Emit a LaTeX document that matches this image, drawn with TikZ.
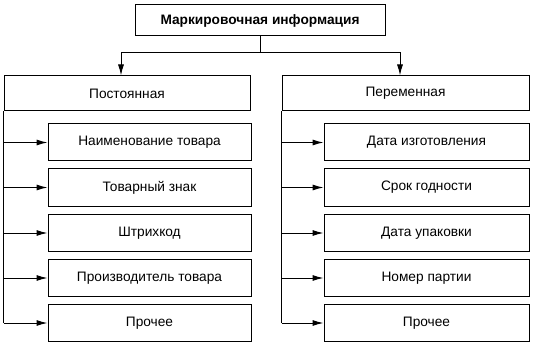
\documentclass[tikz,border=0pt]{standalone}
\usepackage{fontspec}
\setmainfont{Liberation Sans}
\usetikzlibrary{arrows.meta}

\begin{document}
\begin{tikzpicture}[
  x=1pt, y=-1pt,
  font=\fontsize{13.7}{16}\selectfont, >={Latex[length=11pt,width=6pt]},
  box/.style={draw,line width=1pt,inner sep=2pt,align=center},
  head/.style={box,minimum width=250pt,minimum height=31pt,font=\fontsize{13.7}{16}\selectfont\bfseries},
  kind/.style={box,minimum height=35pt},
  item/.style={box,minimum height=37pt},
  e/.style={->,line width=1pt},
]
\useasboundingbox (0,0) rectangle (534,347);

\node[head] (top) at (260,20.5) {Маркировочная информация};

\node[kind,minimum width=246pt] (perm) at (127,93.5) {Постоянная};
\node[kind,minimum width=247pt] (var)  at (405.5,93.5) {Переменная};

% left column
\node[item,minimum width=203pt] (p1) at (149.5,142.5) {Наименование товара};
\node[item,minimum width=203pt] (p2) at (149.5,187.5) {Товарный знак};
\node[item,minimum width=203pt] (p3) at (149.5,233)   {Штрихкод};
\node[item,minimum width=203pt] (p4) at (149.5,278)   {Производитель товара};
\node[item,minimum width=203pt] (p5) at (149.5,323)   {Прочее};

% right column
\node[item,minimum width=205pt] (v1) at (426.5,142.5) {Дата изготовления};
\node[item,minimum width=205pt] (v2) at (426.5,187.5) {Срок годности};
\node[item,minimum width=205pt] (v3) at (426.5,233)   {Дата упаковки};
\node[item,minimum width=205pt] (v4) at (426.5,278)   {Номер партии};
\node[item,minimum width=205pt] (v5) at (426.5,323)   {Прочее};

% top split
\coordinate (split) at (260,53);
\coordinate (sl) at (121,53);
\coordinate (sr) at (400,53);
\draw[line width=1pt] (top.south) -- (split);
\draw[e] (split) -- (sl) -- (sl |- perm.north);
\draw[e] (split) -- (sr) -- (sr |- var.north);

% trunks run down from the left edges
\draw[line width=1pt] (perm.south west) -- (perm.south west |- p5.west);
\draw[line width=1pt] (var.south west) -- (var.south west |- v5.west);
\foreach \n in {p1,p2,p3,p4,p5}
  \draw[e] (perm.south west |- \n.west) -- (\n.west);
\foreach \n in {v1,v2,v3,v4,v5}
  \draw[e] (var.south west |- \n.west) -- (\n.west);
\end{tikzpicture}
\end{document}
